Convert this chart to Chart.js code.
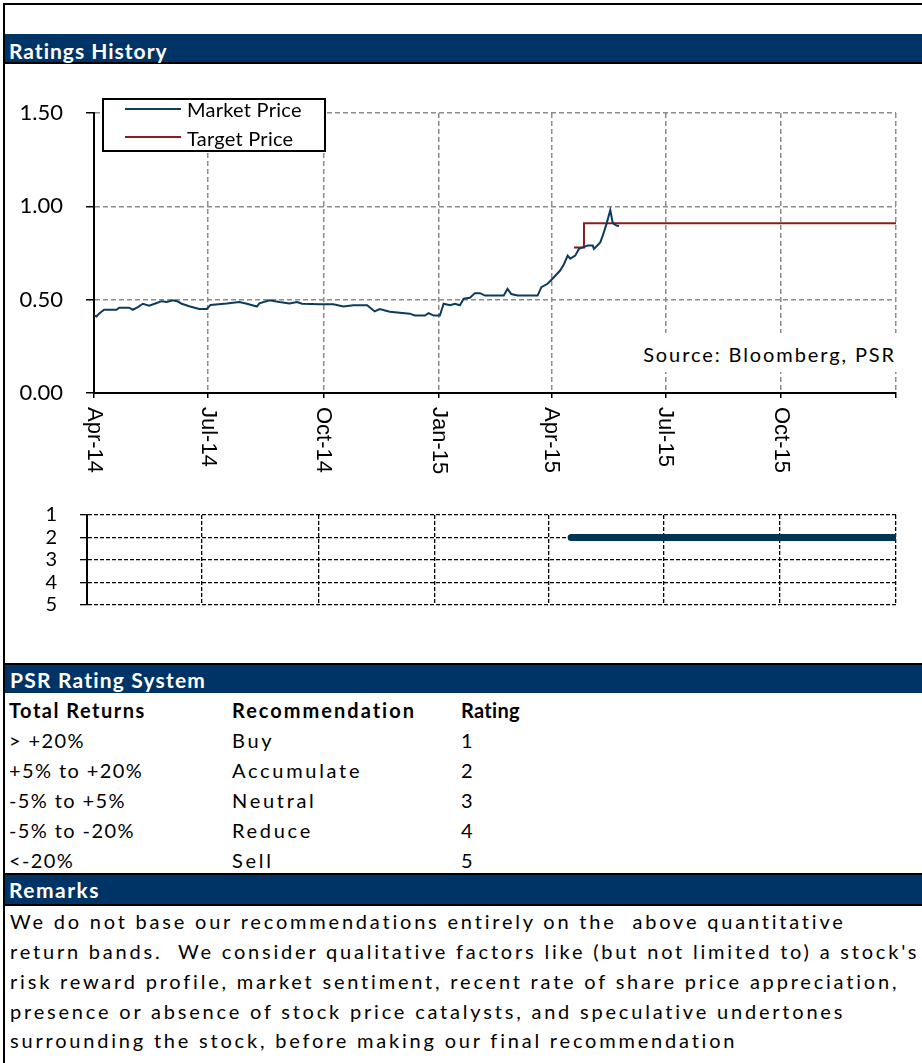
<!DOCTYPE html>
<html>
<head>
<meta charset="utf-8">
<script src="https://cdn.jsdelivr.net/npm/chart.js@4"></script>
<style>
body { margin: 0; background: #fff; }
#page { position: relative; width: 922px; height: 1063px; overflow: hidden; background: #fff; font-family: Lato, "Open Sans", sans-serif; }
.abs { position: absolute; }
.t { position: absolute; white-space: pre; line-height: 1.2; color: #000; }
.band { position: absolute; left: 5px; right: 0; background: #003366; }
.rule { position: absolute; left: 3px; right: 0; height: 2px; background: #000; }
</style>
</head>
<body>
<div id="page">
  <div class="abs" style="left:3px;top:3px;right:0;height:2px;background:#000"></div>
  <div class="abs" style="left:3px;top:3px;width:2px;bottom:0;background:#000"></div>

  <div class="band" style="top:34px;height:28px"></div>
  <div class="rule" style="top:62px"></div>

  <canvas id="priceChart" class="abs" width="922" height="416" style="left:0;top:64px"></canvas>
  <canvas id="ratingChart" class="abs" width="922" height="160" style="left:0;top:480px"></canvas>

  <div id="legend" class="abs" style="left:102px;top:98px;width:224px;height:54px;box-sizing:border-box;border:2px solid #000;background:#fff"></div>
  <div class="abs" style="left:125px;top:108px;width:56px;height:2px;background:#0d3b5c"></div>
  <div class="abs" style="left:125px;top:136px;width:56px;height:2px;background:#8b1c1c"></div>
  <div class="abs" style="left:640px;top:333px;width:258px;height:39px;background:#fff"></div>

  <div class="rule" style="top:663px"></div>
  <div class="band" style="top:665px;height:28px"></div>
  <div class="rule" style="top:873px"></div>
  <div class="band" style="top:875px;height:29px"></div>
  <div class="rule" style="top:904px"></div>
</div>

<script>
// Market price
const priceDates = ['2014-04-01','2014-04-03','2014-04-05','2014-04-09','2014-04-19','2014-04-21','2014-04-29','2014-05-02','2014-05-06','2014-05-10',
  '2014-05-15','2014-05-21','2014-05-25','2014-05-29','2014-06-03','2014-06-07','2014-06-10','2014-06-16','2014-06-24','2014-06-30',
  '2014-07-03','2014-07-16','2014-07-26','2014-08-01','2014-08-09','2014-08-11','2014-08-19','2014-08-27','2014-09-04','2014-09-10',
  '2014-09-14','2014-09-28','2014-10-09','2014-10-17','2014-10-25','2014-11-05','2014-11-11','2014-11-15','2014-11-23','2014-12-09',
  '2014-12-13','2014-12-21','2014-12-24','2014-12-28','2015-01-02','2015-01-05','2015-01-10','2015-01-14','2015-01-18','2015-01-21',
  '2015-01-26','2015-01-30','2015-02-03','2015-02-07','2015-02-22','2015-02-25','2015-02-28','2015-03-05','2015-03-21','2015-03-24',
  '2015-03-29','2015-04-03','2015-04-08','2015-04-11','2015-04-14','2015-04-16','2015-04-20','2015-04-23','2015-04-26','2015-04-30',
  '2015-05-04','2015-05-05','2015-05-10','2015-05-12','2015-05-15','2015-05-18','2015-05-20','2015-05-23','2015-05-25'];
const priceValues = [0.415,0.410,0.425,0.446,0.446,0.457,0.457,0.446,0.460,0.478,
  0.468,0.482,0.492,0.488,0.497,0.490,0.478,0.465,0.450,0.450,
  0.472,0.480,0.488,0.478,0.463,0.480,0.497,0.487,0.480,0.487,
  0.478,0.475,0.475,0.463,0.470,0.470,0.437,0.450,0.435,0.425,
  0.415,0.415,0.428,0.415,0.415,0.478,0.470,0.478,0.470,0.505,
  0.510,0.535,0.535,0.522,0.522,0.558,0.530,0.522,0.522,0.567,
  0.585,0.620,0.656,0.690,0.736,0.720,0.736,0.772,0.780,0.790,
  0.790,0.772,0.807,0.843,0.906,0.980,0.910,0.897,0.895];

// Target price
const targetDates = ['2015-04-19','2015-04-27','2016-01-01'];
const targetValues = [0.78, 0.91, 0.91];

// Rating (1 = Buy ... 5 = Sell)
const ratingDates = ['2015-04-19','2016-01-01'];
const ratingValues = [2, 2];

const tickDates = ['2014-04-01','2014-07-01','2014-10-01','2015-01-01','2015-04-01','2015-07-01','2015-10-01','2016-01-01'];
const tickLabels = ['Apr-14','Jul-14','Oct-14','Jan-15','Apr-15','Jul-15','Oct-15',''];
const priceTicks = [0, 0.5, 1, 1.5];
const ratingTicks = [1, 2, 3, 4, 5];

const legendLabels = ['Market Price', 'Target Price'];
const sourceText = 'Source: Bloomberg, PSR';
const tableHeader = ['Total Returns', 'Recommendation', 'Rating'];
const tableReturns = ['> +20%', '+5% to +20%', '-5% to +5%', '-5% to -20%', '<-20%'];
const tableRecs = ['Buy', 'Accumulate', 'Neutral', 'Reduce', 'Sell'];
const tableRatings = ['1', '2', '3', '4', '5'];
const remarkLines = [
  'We do not base our recommendations entirely on the  above quantitative',
  'return bands.  We consider qualitative factors like (but not limited to) a stock\'s',
  'risk reward profile, market sentiment, recent rate of share price appreciation,',
  'presence or absence of stock price catalysts, and speculative undertones',
  'surrounding the stock, before making our final recommendation'
];

const toTime = d => { const p = d.split('-'); return Date.UTC(+p[0], +p[1] - 1, +p[2]); };
const xy = (dates, vals) => dates.map((d, i) => ({ x: toTime(d), y: vals[i] }));

// text placed by its baseline (Lato ascent ~0.987em)
const page = document.getElementById('page');
function put(text, x, baseline, size, opts = {}) {
  const el = document.createElement('div');
  el.className = 't';
  el.textContent = text;
  el.style.left = x + 'px';
  el.style.top = (baseline - 0.987 * size) + 'px';
  el.style.fontSize = size + 'px';
  if (opts.bold) el.style.fontWeight = 'bold';
  if (opts.color) el.style.color = opts.color;
  if (opts.ls) el.style.letterSpacing = opts.ls + 'px';
  if (opts.right) { el.style.left = 'auto'; el.style.right = (922 - opts.right) + 'px'; }
  page.appendChild(el);
}

put('Ratings History', 9, 59, 21, { bold: true, color: '#fff', ls: 1 });
put(legendLabels[0], 187, 117, 20, { ls: 0.25 });
put(legendLabels[1], 187, 145.5, 20, { ls: 0.25 });
put(sourceText, 0, 362, 20, { right: 896, ls: 1.9 });

put('PSR Rating System', 10, 688, 21, { bold: true, color: '#fff', ls: 1.2 });
const cols = [9, 232, 461];
const headLs = [1.5, 2, 0.3];
tableHeader.forEach((h, i) => put(h, cols[i], 718, 20, { bold: true, ls: headLs[i] }));
tableReturns.forEach((r, i) => {
  const b = 748 + i * 30;
  put(r, cols[0], b, 20, { ls: 1.4 });
  put(tableRecs[i], cols[1], b, 20, { ls: 2.7 });
  put(tableRatings[i], cols[2], b, 20);
});
put('Remarks', 9, 898, 21, { bold: true, color: '#fff', ls: 1.5 });
remarkLines.forEach((l, i) => put(l, 10, 929 + i * 29.8, 20, { ls: 2.8 }));

const monthLabels = {
  id: 'monthLabels',
  afterDraw(chart) {
    const { ctx } = chart;
    const x = chart.scales.x;
    ctx.save();
    ctx.font = '22px "Liberation Sans", Arial, sans-serif';
    ctx.fillStyle = '#000';
    ctx.textAlign = 'left';
    ctx.textBaseline = 'middle';
    tickDates.forEach((d, i) => {
      if (!tickLabels[i]) return;
      ctx.save();
      ctx.translate(x.getPixelForValue(toTime(d)), x.top + 14);
      ctx.rotate(Math.PI / 2);
      ctx.fillText(tickLabels[i], 0, 0);
      ctx.restore();
    });
    ctx.restore();
  }
};

const xMin = toTime(tickDates[0]);
const xMax = toTime(tickDates[tickDates.length - 1]);
const setTicks = (list) => (scale) => { scale.ticks = list.map(v => ({ value: v })); };

new Chart(document.getElementById('priceChart'), {
  type: 'line',
  data: {
    datasets: [
      { label: legendLabels[0], data: xy(priceDates, priceValues), borderColor: '#0d3b5c', borderWidth: 2, pointRadius: 0, tension: 0 },
      { label: legendLabels[1], data: xy(targetDates, targetValues), borderColor: '#8b1c1c', borderWidth: 2, pointRadius: 0, stepped: 'before' }
    ]
  },
  options: {
    responsive: false,
    animation: false,
    events: [],
    layout: { padding: { top: 49, right: 26, left: 0, bottom: 0 } },
    plugins: { legend: { display: false }, tooltip: { enabled: false } },
    scales: {
      x: {
        type: 'linear', min: xMin, max: xMax,
        afterBuildTicks: setTicks(tickDates.map(toTime)),
        afterFit: s => { s.height = 87; },
        ticks: { display: false },
        grid: { color: '#8c8c8c', lineWidth: 1.5, drawTicks: true, tickLength: 5, tickColor: '#000', tickWidth: 1.5 },
        border: { display: true, color: '#000', width: 2, dash: [5, 3] }
      },
      y: {
        min: 0, max: 1.5,
        afterBuildTicks: setTicks(priceTicks),
        afterFit: s => { s.width = 94; },
        ticks: { color: '#000', padding: 23, font: { family: 'Lato', size: 22 }, callback: v => v.toFixed(2) },
        grid: { color: '#8c8c8c', lineWidth: 1.5, drawTicks: true, tickLength: 8, tickColor: '#000', tickWidth: 1.5 },
        border: { display: true, color: '#000', width: 2, dash: [5, 3] }
      }
    }
  },
  plugins: [monthLabels]
});

new Chart(document.getElementById('ratingChart'), {
  type: 'line',
  data: {
    datasets: [
      { label: 'Rating', data: xy(ratingDates, ratingValues), borderColor: '#003553', borderWidth: 7, borderCapStyle: 'round', pointRadius: 0, clip: 0 }
    ]
  },
  options: {
    responsive: false,
    animation: false,
    events: [],
    layout: { padding: { top: 29, right: 26, left: 0, bottom: 0 } },
    plugins: { legend: { display: false }, tooltip: { enabled: false } },
    scales: {
      x: {
        type: 'linear', min: xMin, max: xMax,
        afterBuildTicks: setTicks(tickDates.map(toTime)),
        afterFit: s => { s.height = 35; },
        ticks: { display: false },
        grid: { color: '#000', lineWidth: 1.3, drawTicks: false },
        border: { display: false, dash: [4, 2] }
      },
      y: {
        min: 1, max: 5, reverse: true,
        afterBuildTicks: setTicks(ratingTicks),
        afterFit: s => { s.width = 87; },
        ticks: { color: '#000', padding: 23, font: { family: 'Lato', size: 20 }, callback: v => String(v) },
        grid: { color: '#000', lineWidth: 1.3, drawTicks: true, tickLength: 7, tickColor: '#000', tickWidth: 1.3 },
        border: { display: true, color: '#000', width: 2, dash: [4, 2] }
      }
    }
  }
});
</script>
</body>
</html>
